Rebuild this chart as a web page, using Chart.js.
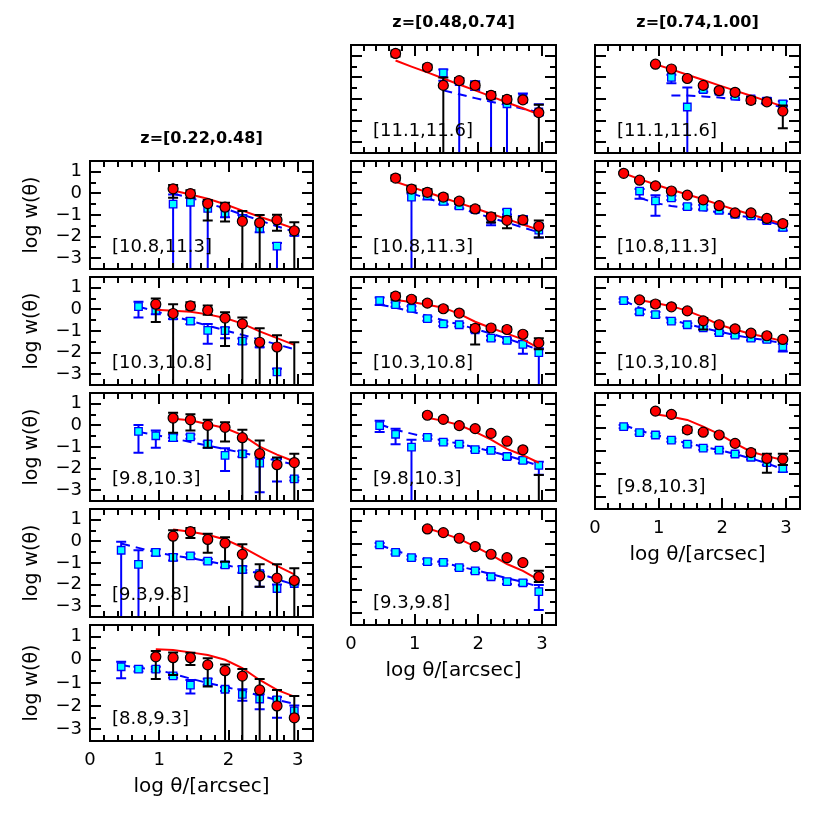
<!DOCTYPE html>
<html>
<head>
<meta charset="utf-8">
<script src="https://cdn.jsdelivr.net/npm/chart.js@4.4.1/dist/chart.umd.min.js"></script>
<style>
  html, body { margin: 0; padding: 0; background: #fff; }
  #wrap { position: relative; width: 830px; height: 830px; overflow: hidden; }
  #wrap canvas { position: absolute; }
</style>
</head>
<body>
<div id="wrap"></div>
<script>
// w(theta) in stellar-mass bins, three redshift slices
const _ = null;
const OFF = -9; // lower end of an error bar that runs off the panel

const thetaBins = [0.45, 0.70, 0.95, 1.20, 1.45, 1.70, 1.95, 2.20, 2.45, 2.70, 2.95];
const xTicks = [0, 1, 2, 3];
const yTicks = [1, 0, -1, -2, -3];
const zLabels = ['z=[0.22,0.48]', 'z=[0.48,0.74]', 'z=[0.74,1.00]'];
const massLabels = [
  ['[10.8,11.3]', '[10.3,10.8]', '[9.8,10.3]', '[9.3,9.8]', '[8.8,9.3]'],
  ['[11.1,11.6]', '[10.8,11.3]', '[10.3,10.8]', '[9.8,10.3]', '[9.3,9.8]'],
  ['[11.1,11.6]', '[10.8,11.3]', '[10.3,10.8]', '[9.8,10.3]']
];

// ---- z=[0.22,0.48] ----
const z1m108Red     = [_, _, _, 0.21, -0.01, -0.47, -0.64, -1.29, -1.36, -1.23, -1.73];
const z1m108RedErr  = [_, _, _, [-0.20, 0.39], [-0.20, 0.15], [-1.26, -0.30], [-1.30, -0.43], [OFF, -0.82], [OFF, -1.00], [-1.73, -0.99], [OFF, -1.33]];
const z1m108Blue    = [_, _, _, -0.50, -0.41, -0.69, -0.91, -1.18, -1.62, -2.44, -1.80];
const z1m108BlueErr = [_, _, _, [OFF, -0.05], [OFF, -0.20], [OFF, -0.50], [-1.10, -0.75], [-1.35, -1.00], [-1.80, -1.45], [OFF, -2.30], [-1.95, -1.65]];
const z1m108RedFit  = [_, _, _, 0.13, -0.05, -0.25, -0.50, -0.80, -1.08, -1.35, -1.63];
const z1m108BlueFit = [_, _, _, -0.02, -0.20, -0.45, -0.70, -0.98, -1.25, -1.52, -1.78];

const z1m103Red     = [_, _, 0.24, -0.19, 0.16, -0.04, -0.40, -0.67, -1.52, -1.74, OFF];
const z1m103RedErr  = [_, _, [-0.58, 0.50], [OFF, 0.24], [0.00, 0.33], [-0.25, 0.18], [-1.70, -0.13], [OFF, -0.37], [OFF, -0.87], [OFF, -1.20], [OFF, -1.52]];
const z1m103Blue    = [_, 0.13, -0.04, -0.30, -0.54, -0.97, -0.98, -1.47, -1.60, -2.89, _];
const z1m103BlueErr = [_, [-0.37, 0.35], [-0.22, 0.14], [-0.45, -0.15], [-0.68, -0.40], [-1.59, -0.68], [-1.34, -0.84], [-1.60, -1.35], [-1.75, -1.45], [OFF, -2.75], _];
const z1m103RedFit  = [_, _, -0.02, -0.06, -0.11, -0.23, -0.40, -0.66, -1.02, -1.33, -1.64];
const z1m103BlueFit = [_, 0.13, -0.09, -0.31, -0.53, -0.75, -0.97, -1.18, -1.40, -1.62, -1.84];

const z1m98Red      = [_, _, _, 0.34, 0.26, 0.00, -0.09, -0.57, -1.31, -1.82, -1.72];
const z1m98RedErr   = [_, _, _, [-0.34, 0.58], [-0.24, 0.52], [-1.03, 0.26], [-0.74, 0.15], [OFF, -0.20], [OFF, -0.70], [OFF, -1.49], [OFF, -1.31]];
const z1m98Blue     = [_, -0.28, -0.48, -0.57, -0.53, -0.86, -1.39, -1.32, -1.75, -1.68, -2.48];
const z1m98BlueErr  = [_, [-1.27, 0.02], [-1.03, -0.24], [-0.72, -0.42], [-0.62, -0.42], [-1.03, -0.74], [-2.11, -1.06], [-1.45, -1.18], [-3.10, -1.50], [-2.60, -1.55], [-2.55, -2.40]];
const z1m98RedFit   = [_, _, _, 0.31, 0.24, 0.05, -0.12, -0.45, -0.98, -1.35, -1.67];
const z1m98BlueFit  = [_, -0.30, -0.45, -0.60, -0.77, -0.93, -1.10, -1.27, -1.45, -1.63, -1.82];

const z1m93Red      = [_, _, _, 0.24, 0.45, 0.09, -0.08, -0.60, -1.60, -1.70, -1.81];
const z1m93RedErr   = [_, _, _, [OFF, 0.52], [0.16, 0.62], [-0.53, 0.35], [-0.94, 0.19], [OFF, -0.13], [-2.10, -1.06], [OFF, -1.06], [OFF, -1.24]];
const z1m93Blue     = [-0.41, -1.06, -0.51, -0.74, -0.67, -0.91, -1.09, -1.30, -1.49, -2.18, -1.95];
const z1m93BlueErr  = [[OFF, -0.02], [OFF, -0.41], [-0.66, -0.36], [-0.89, -0.59], [-0.77, -0.57], [-1.01, -0.81], [-1.21, -0.97], [-1.45, -1.15], [-2.10, -1.40], [OFF, -2.00], [-2.00, -1.90]];
const z1m93RedFit   = [_, _, _, 0.55, 0.45, 0.31, 0.09, -0.27, -0.70, -1.13, -1.53];
const z1m93BlueFit  = [-0.10, -0.30, -0.50, -0.65, -0.77, -0.92, -1.08, -1.28, -1.50, -1.75, -2.00];

const z1m88Red      = [_, _, 0.13, 0.09, 0.09, -0.22, -0.47, -0.70, -1.30, -1.99, -2.50];
const z1m88RedErr   = [_, _, [-0.83, 0.38], [-0.66, 0.32], [-0.22, 0.30], [-1.15, 0.07], [OFF, -0.20], [OFF, -0.40], [OFF, -0.83], [OFF, -1.30], [OFF, -1.56]];
const z1m88Blue     = [-0.30, -0.40, -0.40, -0.69, -1.09, -0.95, -1.27, -1.49, -1.69, -1.73, -2.20];
const z1m88BlueErr  = [[-0.80, -0.08], [-0.50, -0.30], [-0.50, -0.30], [-0.77, -0.61], [-1.45, -0.87], [-1.08, -0.82], [-1.35, -1.17], [-1.76, -1.27], [-2.13, -1.49], [-2.50, -1.60], [-2.55, -1.97]];
const z1m88RedFit   = [_, _, 0.45, 0.42, 0.32, 0.21, 0.00, -0.36, -0.87, -1.30, -1.59];
const z1m88BlueFit  = [-0.22, -0.35, -0.42, -0.60, -0.81, -1.00, -1.16, -1.35, -1.54, -1.73, -1.90];

// ---- z=[0.48,0.74] ----
const z2m111Red     = [_, 1.11, _, 0.47, -0.37, -0.15, -0.37, -0.83, -1.02, -1.04, -1.63];
const z2m111RedErr  = [_, [0.97, 1.25], _, [0.35, 0.58], [OFF, -0.01], [-0.27, -0.03], [-0.49, -0.25], [-0.98, -0.68], [-1.17, -0.87], [-1.14, -0.94], [OFF, -1.27]];
const z2m111Blue    = [_, _, _, _, 0.21, -0.20, -0.38, -0.85, -1.22, -0.96, -1.60];
const z2m111BlueErr = [_, _, _, _, [-0.15, 0.36], [OFF, -0.05], [-0.58, -0.18], [OFF, -0.70], [OFF, -1.00], [-1.16, -0.75], [-1.75, -1.24]];
const z2m111RedFit  = [_, 0.78, 0.50, 0.23, -0.05, -0.33, -0.60, -0.88, -1.16, -1.43, -1.71];
const z2m111BlueFit = [_, _, _, _, -0.60, -0.78, -0.96, -1.13, -1.29, -1.45, -1.62];

const z2m108Red     = [_, 0.71, 0.20, 0.05, -0.17, -0.36, -0.72, -1.09, -1.25, -1.23, -1.52];
const z2m108RedErr  = [_, [0.58, 0.84], [0.05, 0.35], [-0.10, 0.20], [-0.30, -0.05], [-0.48, -0.25], [-0.84, -0.60], [-1.35, -0.92], [-1.61, -1.08], [-1.35, -1.10], [-2.04, -1.26]];
const z2m108Blue    = [_, _, -0.17, -0.10, -0.37, -0.58, -0.75, -1.20, -0.87, -1.25, -1.70];
const z2m108BlueErr = [_, _, [OFF, 0.00], [-0.28, 0.02], [-0.50, -0.25], [-0.70, -0.48], [-0.85, -0.65], [-1.47, -1.00], [-0.98, -0.75], [-1.40, -1.05], [-2.04, -1.40]];
const z2m108RedFit  = [_, 0.54, 0.29, 0.05, -0.20, -0.45, -0.69, -0.94, -1.19, -1.44, -1.69];
const z2m108BlueFit = [_, _, 0.00, -0.23, -0.45, -0.68, -0.90, -1.13, -1.35, -1.58, -1.80];

const z2m103Red     = [_, 0.61, 0.47, 0.29, 0.03, -0.17, -0.88, -0.86, -0.93, -1.15, -1.55];
const z2m103RedErr  = [_, [0.45, 0.75], [0.37, 0.57], [0.19, 0.39], [-0.07, 0.13], [-0.27, -0.07], [-1.62, -0.72], [-0.96, -0.76], [-1.03, -0.83], [-1.25, -1.05], [-1.85, -1.33]];
const z2m103Blue    = [0.41, 0.22, 0.05, -0.43, -0.67, -0.71, -0.95, -1.33, -1.43, -1.62, -2.00];
const z2m103BlueErr = [[0.20, 0.55], [0.12, 0.32], [-0.05, 0.15], [-0.53, -0.33], [-0.77, -0.57], [-0.79, -0.63], [-1.05, -0.85], [-1.43, -1.23], [-1.53, -1.33], [-2.05, -1.45], [OFF, -1.80]];
const z2m103RedFit  = [_, 0.44, 0.34, 0.22, 0.08, -0.21, -0.57, -0.86, -1.12, -1.39, -1.79];
const z2m103BlueFit = [0.22, 0.08, -0.10, -0.30, -0.50, -0.70, -0.90, -1.12, -1.35, -1.60, -1.88];

const z2m98Red      = [_, _, _, 0.47, 0.28, -0.01, -0.15, -0.37, -0.73, -1.13, OFF];
const z2m98RedErr   = [_, _, _, [0.40, 0.55], [0.20, 0.36], [-0.08, 0.06], [-0.22, -0.08], [-0.45, -0.30], [-0.80, -0.66], [-1.20, -1.05], [OFF, -2.30]];
const z2m98Blue     = [-0.01, -0.41, -1.01, -0.55, -0.77, -0.87, -1.12, -1.16, -1.44, -1.62, -1.85];
const z2m98BlueErr  = [[-0.30, 0.21], [-0.87, -0.15], [OFF, -0.66], [-0.63, -0.47], [-0.85, -0.69], [-0.95, -0.79], [-1.20, -1.04], [-1.24, -1.08], [-1.56, -1.32], [-1.74, -1.50], [-2.28, -1.68]];
const z2m98RedFit   = [_, _, _, 0.35, 0.21, 0.02, -0.30, -0.66, -1.09, -1.38, -1.73];
const z2m98BlueFit  = [0.05, -0.20, -0.38, -0.55, -0.70, -0.85, -1.02, -1.20, -1.40, -1.62, -1.87];

const z2m93Red      = [_, _, _, 0.64, 0.48, 0.24, -0.12, -0.45, -0.60, -0.81, -1.42];
const z2m93RedErr   = [_, _, _, [0.58, 0.70], [0.42, 0.54], [0.18, 0.30], [-0.18, -0.06], [-0.51, -0.39], [-0.66, -0.54], [-0.87, -0.75], [-1.65, -1.16]];
const z2m93Blue     = [-0.05, -0.37, -0.60, -0.77, -0.80, -1.03, -1.17, -1.42, -1.63, -1.68, -2.06];
const z2m93BlueErr  = [[-0.13, 0.03], [-0.45, -0.29], [-0.68, -0.52], [-0.87, -0.67], [-0.88, -0.72], [-1.11, -0.95], [-1.25, -1.09], [-1.50, -1.34], [-1.73, -1.53], [-1.78, -1.58], [-2.85, -1.78]];
const z2m93RedFit   = [_, _, _, 0.67, 0.45, 0.21, -0.12, -0.48, -0.87, -1.17, -1.56];
const z2m93BlueFit  = [-0.05, -0.30, -0.50, -0.68, -0.82, -0.98, -1.13, -1.30, -1.48, -1.65, -1.85];

// ---- z=[0.74,1.00] ----
const z3m111Red     = [_, _, 0.61, 0.39, -0.05, -0.37, -0.61, -0.69, -1.06, -1.13, -1.56];
const z3m111RedErr  = [_, _, [0.55, 0.67], [0.33, 0.45], [-0.11, 0.01], [-0.43, -0.31], [-0.67, -0.55], [-0.80, -0.58], [-1.20, -0.92], [-1.23, -1.03], [-2.35, -1.30]];
const z3m111Blue    = [_, _, _, 0.00, -1.37, -0.56, -0.65, -0.87, -1.00, -1.10, -1.23];
const z3m111BlueErr = [_, _, _, [-0.27, 0.12], [OFF, -0.47], [-0.66, -0.46], [-0.75, -0.55], [-0.97, -0.77], [-1.10, -0.90], [-1.20, -0.95], [-1.35, -1.10]];
const z3m111RedFit  = [_, _, 0.61, 0.37, 0.12, -0.12, -0.37, -0.61, -0.85, -1.10, -1.34];
const z3m111BlueFit = [_, _, _, -0.84, -0.84, -0.88, -0.93, -1.02, -1.12, -1.25, -1.37];

const z3m108Red     = [0.93, 0.61, 0.35, 0.11, -0.08, -0.30, -0.57, -0.90, -0.90, -1.16, -1.40];
const z3m108RedErr  = [[0.87, 0.99], [0.55, 0.67], [0.29, 0.41], [0.05, 0.17], [-0.14, -0.02], [-0.36, -0.24], [-0.63, -0.51], [-0.96, -0.84], [-0.98, -0.82], [-1.24, -1.08], [-1.52, -1.28]];
const z3m108Blue    = [_, 0.11, -0.35, -0.21, -0.61, -0.64, -0.78, -0.97, -1.04, -1.26, -1.57];
const z3m108BlueErr = [_, [-0.25, 0.20], [-1.04, -0.09], [-0.31, -0.11], [-0.71, -0.51], [-0.74, -0.54], [-0.88, -0.68], [-1.07, -0.87], [-1.14, -0.94], [-1.36, -1.16], [-1.72, -1.42]];
const z3m108RedFit  = [0.93, 0.66, 0.41, 0.17, -0.05, -0.27, -0.52, -0.76, -0.98, -1.20, -1.42];
const z3m108BlueFit = [_, -0.20, -0.45, -0.58, -0.68, -0.78, -0.88, -1.00, -1.12, -1.28, -1.50];

const z3m103Red     = [_, 0.44, 0.25, 0.12, -0.07, -0.53, -0.71, -0.90, -1.10, -1.22, -1.39];
const z3m103RedErr  = [_, [0.36, 0.52], [0.12, 0.38], [0.05, 0.19], [-0.13, -0.01], [-0.93, -0.40], [-0.80, -0.62], [-1.00, -0.80], [-1.20, -1.00], [-1.30, -1.14], [-1.47, -1.31]];
const z3m103Blue    = [0.41, -0.11, -0.24, -0.54, -0.71, -0.86, -1.07, -1.19, -1.33, -1.39, -1.72];
const z3m103BlueErr = [[0.33, 0.49], [-0.21, -0.01], [-0.36, -0.12], [-0.61, -0.47], [-0.78, -0.64], [-0.93, -0.79], [-1.14, -1.00], [-1.27, -1.11], [-1.43, -1.23], [-1.49, -1.29], [-1.95, -1.60]];
const z3m103RedFit  = [_, 0.44, 0.30, 0.15, -0.07, -0.36, -0.71, -0.93, -1.14, -1.29, -1.47];
const z3m103BlueFit = [0.40, 0.08, -0.18, -0.47, -0.68, -0.86, -1.03, -1.19, -1.33, -1.43, -1.57];

const z3m98Red      = [_, _, 0.72, 0.58, -0.09, -0.19, -0.31, -0.67, -1.07, -1.32, -1.35];
const z3m98RedErr   = [_, _, [0.66, 0.78], [0.52, 0.64], [-0.21, 0.03], [-0.27, -0.11], [-0.37, -0.25], [-0.75, -0.59], [-1.20, -0.95], [-1.94, -1.12], [-1.60, -1.12]];
const z3m98Blue     = [0.05, -0.21, -0.31, -0.53, -0.70, -0.88, -0.96, -1.13, -1.27, -1.50, -1.75];
const z3m98BlueErr  = [[-0.02, 0.12], [-0.29, -0.13], [-0.38, -0.24], [-0.60, -0.46], [-0.77, -0.63], [-0.95, -0.81], [-1.03, -0.89], [-1.20, -1.06], [-1.37, -1.17], [-1.60, -1.40], [-1.90, -1.60]];
const z3m98RedFit   = [_, _, 0.58, 0.48, 0.34, 0.05, -0.27, -0.67, -1.03, -1.22, -1.39];
const z3m98BlueFit  = [0.12, -0.12, -0.31, -0.48, -0.67, -0.81, -0.96, -1.13, -1.32, -1.53, -1.79];

// panels per column, top to bottom: [red, redErr, blue, blueErr, redFit, blueFit]
const columns = [
  [
    [z1m108Red, z1m108RedErr, z1m108Blue, z1m108BlueErr, z1m108RedFit, z1m108BlueFit],
    [z1m103Red, z1m103RedErr, z1m103Blue, z1m103BlueErr, z1m103RedFit, z1m103BlueFit],
    [z1m98Red, z1m98RedErr, z1m98Blue, z1m98BlueErr, z1m98RedFit, z1m98BlueFit],
    [z1m93Red, z1m93RedErr, z1m93Blue, z1m93BlueErr, z1m93RedFit, z1m93BlueFit],
    [z1m88Red, z1m88RedErr, z1m88Blue, z1m88BlueErr, z1m88RedFit, z1m88BlueFit]
  ],
  [
    [z2m111Red, z2m111RedErr, z2m111Blue, z2m111BlueErr, z2m111RedFit, z2m111BlueFit],
    [z2m108Red, z2m108RedErr, z2m108Blue, z2m108BlueErr, z2m108RedFit, z2m108BlueFit],
    [z2m103Red, z2m103RedErr, z2m103Blue, z2m103BlueErr, z2m103RedFit, z2m103BlueFit],
    [z2m98Red, z2m98RedErr, z2m98Blue, z2m98BlueErr, z2m98RedFit, z2m98BlueFit],
    [z2m93Red, z2m93RedErr, z2m93Blue, z2m93BlueErr, z2m93RedFit, z2m93BlueFit]
  ],
  [
    [z3m111Red, z3m111RedErr, z3m111Blue, z3m111BlueErr, z3m111RedFit, z3m111BlueFit],
    [z3m108Red, z3m108RedErr, z3m108Blue, z3m108BlueErr, z3m108RedFit, z3m108BlueFit],
    [z3m103Red, z3m103RedErr, z3m103Blue, z3m103BlueErr, z3m103RedFit, z3m103BlueFit],
    [z3m98Red, z3m98RedErr, z3m98Blue, z3m98BlueErr, z3m98RedFit, z3m98BlueFit]
  ]
];

const RED = '#ff0000', BLUE = '#0000ff', CYAN = '#00ffff';
const FONT = '"DejaVu Sans", sans-serif';

Chart.defaults.font.family = FONT;
Chart.defaults.color = '#000';

function toLine(vals) {
  const out = [];
  vals.forEach((v, i) => { if (v !== null) out.push({x: thetaBins[i], y: v}); });
  return out;
}

function toPoints(vals, errs) {
  const out = [];
  vals.forEach((v, i) => {
    if (v === null) return;
    const e = errs[i];
    out.push({x: thetaBins[i], y: v, lo: e ? e[0] : v, hi: e ? e[1] : v});
  });
  return out;
}

// error bars are drawn just before their own point dataset
const errorBars = {
  id: 'errorBars',
  beforeDatasetDraw(chart, args) {
    const ds = chart.data.datasets[args.index];
    if (!ds.errColor) return;
    const {ctx, chartArea: a, scales: {x, y}} = chart;
    ctx.save();
    ctx.beginPath();
    ctx.rect(a.left, a.top, a.right - a.left, a.bottom - a.top);
    ctx.clip();
    ctx.strokeStyle = ds.errColor;
    ctx.lineWidth = 2;
    ctx.beginPath();
    ds.data.forEach(p => {
      const px = x.getPixelForValue(p.x);
      const lo = y.getPixelForValue(p.lo);
      const hi = y.getPixelForValue(p.hi);
      ctx.moveTo(px, lo); ctx.lineTo(px, hi);
      ctx.moveTo(px - 5, hi); ctx.lineTo(px + 5, hi);
      ctx.moveTo(px - 5, lo); ctx.lineTo(px + 5, lo);
    });
    ctx.stroke();
    ctx.restore();
  }
};

// box, inward ticks on all sides and the mass-bin label
const frame = {
  id: 'frame',
  afterDraw(chart, args, opts) {
    const {ctx, chartArea: a, scales: {x, y}} = chart;
    ctx.save();
    ctx.strokeStyle = '#000';
    ctx.lineWidth = 2;
    ctx.beginPath();
    for (let k = 1; k * 0.2 < x.max - 0.05; k++) {
      const px = Math.round(x.getPixelForValue(k * 0.2));
      const len = k % 5 === 0 ? 11 : 6;
      ctx.moveTo(px, a.top); ctx.lineTo(px, a.top + len);
      ctx.moveTo(px, a.bottom); ctx.lineTo(px, a.bottom - len);
    }
    for (let k = 1; y.min + k * 0.5 < y.max; k++) {
      const v = y.min + k * 0.5;
      const py = Math.round(y.getPixelForValue(v));
      const len = Number.isInteger(v) ? 11 : 6;
      ctx.moveTo(a.left, py); ctx.lineTo(a.left + len, py);
      ctx.moveTo(a.right, py); ctx.lineTo(a.right - len, py);
    }
    ctx.stroke();
    ctx.strokeRect(a.left, a.top, a.right - a.left, a.bottom - a.top);
    ctx.fillStyle = '#000';
    ctx.font = '18px ' + FONT;
    ctx.textBaseline = 'alphabetic';
    ctx.fillText(opts.text, a.left + 22, a.bottom - 17);
    ctx.restore();
  }
};

const wrap = document.getElementById('wrap');
const colLeft = [90, 333, 577];
const rowTop = [45, 161, 277, 393, 509, 625];
const firstRow = [1, 0, 0];
const panelW = 223, panelH = 116;

columns.forEach((panels, c) => {
  panels.forEach((p, i) => {
    const [red, redErr, blue, blueErr, redFit, blueFit] = p;
    const row = firstRow[c] + i;
    const isTop = i === 0;
    const isBottom = i === panels.length - 1;
    const isLeft = c === 0;
    const padL = isLeft ? colLeft[0] : 18;
    const padR = 8;
    const padT = isTop ? 40 : 8;
    const padB = isBottom ? 62 : 8;
    const w = panelW + padL + padR, h = panelH + padT + padB;

    const cv = document.createElement('canvas');
    cv.width = w; cv.height = h;
    cv.style.width = w + 'px'; cv.style.height = h + 'px';
    cv.style.left = (colLeft[c] - padL) + 'px';
    cv.style.top = (rowTop[row] - padT) + 'px';
    wrap.appendChild(cv);

    new Chart(cv, {
      type: 'line',
      data: {
        datasets: [
          { data: toLine(blueFit), borderColor: BLUE, borderWidth: 2, borderDash: [9, 6],
            pointRadius: 0, order: 4 },
          { data: toPoints(blue, blueErr), showLine: false, pointStyle: 'rect', pointRadius: 5.3,
            backgroundColor: CYAN, borderColor: BLUE, borderWidth: 1.3, errColor: BLUE, order: 3 },
          { data: toLine(redFit), borderColor: RED, borderWidth: 2, pointRadius: 0, order: 2 },
          { data: toPoints(red, redErr), showLine: false, pointStyle: 'circle', pointRadius: 5,
            backgroundColor: RED, borderColor: '#000', borderWidth: 1.2, errColor: '#000', order: 1 }
        ]
      },
      options: {
        responsive: false,
        animation: false,
        events: [],
        layout: {
          padding: {
            left: isLeft ? 0 : padL,
            right: padR,
            top: isTop ? padT - 30 : padT,
            bottom: isBottom ? 0 : padB
          }
        },
        plugins: {
          legend: { display: false },
          tooltip: { enabled: false },
          title: {
            display: isTop,
            text: zLabels[c],
            fullSize: false,
            font: { size: 16, weight: 'bold', lineHeight: 1 },
            padding: { top: 0, bottom: 14 }
          },
          frame: { text: massLabels[c][i] }
        },
        scales: {
          x: {
            type: 'linear',
            min: 0,
            max: 3.22,
            display: isBottom,
            grid: { display: false, drawTicks: false },
            border: { display: false },
            ticks: { padding: 9, font: { size: 18 }, maxRotation: 0, autoSkip: false },
            afterBuildTicks: s => { s.ticks = xTicks.map(v => ({value: v})); },
            afterFit: s => { s.height = padB; s.paddingLeft = 0; s.paddingRight = 0; },
            title: { display: true, text: 'log θ/[arcsec]', font: { size: 20 }, padding: { top: 0, bottom: 4 } }
          },
          y: {
            type: 'linear',
            min: -3.5,
            max: 1.5,
            display: isLeft,
            grid: { display: false, drawTicks: false },
            border: { display: false },
            ticks: {
              padding: 8,
              font: { size: 18 },
              autoSkip: false,
              callback: v => String(v).replace('-', '\u2212')
            },
            afterBuildTicks: s => { s.ticks = yTicks.map(v => ({value: v})); },
            afterFit: s => { s.width = padL; s.paddingTop = 0; s.paddingBottom = 0; },
            title: { display: true, text: 'log w(θ)', font: { size: 19 }, padding: { top: 21, bottom: 0 } }
          }
        }
      },
      plugins: [errorBars, frame]
    });
  });
});
</script>
</body>
</html>
